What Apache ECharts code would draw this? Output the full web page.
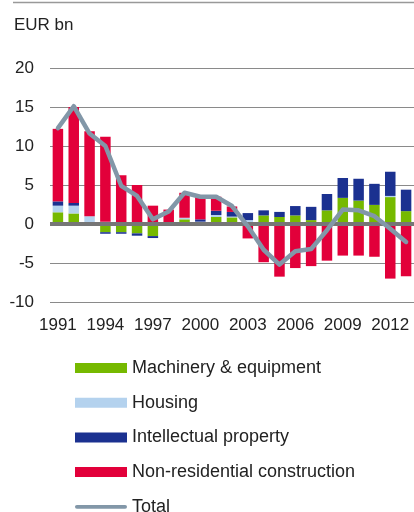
<html>
<head>
    <meta charset="utf-8">
    <title>Investment</title>
    <script src="https://cdn.jsdelivr.net/npm/echarts@6.0.0/dist/echarts.min.js"></script>
    <style>
        body { margin: 0; background: #fff; }
        #main { width: 414px; height: 512px; }
    </style>
</head>
<body>
<div id="main"></div>
<script>
    var years = ['1991', '1992', '1993', '1994', '1995', '1996', '1997', '1998', '1999', '2000', '2001', '2002',
        '2003', '2004', '2005', '2006', '2007', '2008', '2009', '2010', '2011', '2012', '2013']

    var machinery = [1.5, 1.35, 0, -1.05, -1.05, -1.2, -1.55, -0.2, 0.6, 0.1, 0.9, 0.85,
        0.2, 1.1, 0.9, 1.1, 0.5, 1.75, 3.35, 3.0, 2.45, 3.45, 1.65]
    var housing = [0.85, 1.0, 1.0, 0.3, 0, 0, 0, 0, 0.2, 0.2, 0.25, 0.1,
        0.3, 0, 0, 0, 0, 0, 0, 0, 0, 0.15, 0]
    var intellectual = [0.55, 0.35, 0, -0.2, -0.2, -0.3, -0.25, 0, 0, 0.3, 0.55, 0.6,
        0.9, 0.65, 0.65, 1.2, 1.7, 2.1, 2.55, 2.8, 2.7, 3.1, 2.75]
    var construction = [9.3, 12.3, 10.9, 10.9, 6.25, 5.0, 2.35, 1.85, 3.2, 2.9, 1.8, 0.7,
        -1.85, -4.9, -6.75, -5.65, -5.4, -4.7, -4.05, -4.05, -4.2, -7.0, -6.7]
    var total = [12.3, 15.1, 11.6, 10.0, 4.9, 3.6, 0.6, 1.6, 4.0, 3.5, 3.5, 2.3,
        -0.3, -3.3, -5.2, -3.5, -3.2, -0.8, 1.85, 1.75, 1.0, -0.6, -2.3]

    var myChart = echarts.init(document.getElementById('main'))

    var font = 'Liberation Sans, Arial, sans-serif'

    function barSeries (name, data, color) {
        return {
            name: name,
            type: 'bar',
            stack: 'inv',
            data: data,
            barWidth: 10.5,
            itemStyle: { color: color },
            z: 2
        }
    }

    var red = barSeries('Non-residential construction', construction, '#e2003a')
    // thick zero line drawn across the plot
    red.markLine = {
        silent: true,
        symbol: ['none', 'none'],
        label: { show: false },
        lineStyle: { color: '#767676', width: 4, type: 'solid' },
        data: [{ yAxis: 0 }],
        animation: false
    }

    myChart.setOption({
        animation: false,
        textStyle: { fontFamily: font },
        title: {
            text: 'EUR bn',
            left: 14,
            top: 17,
            padding: 0,
            textStyle: { fontSize: 17, fontWeight: 'normal', color: '#222', fontFamily: font }
        },
        graphic: [{
            type: 'line',
            shape: { x1: 13, y1: 2.5, x2: 414, y2: 2.5 },
            style: { stroke: '#999', lineWidth: 1.5 }
        }],
        legend: {
            orient: 'vertical',
            left: 75,
            top: 358,
            height: 200,
            padding: 0,
            itemWidth: 52,
            itemHeight: 10,
            itemGap: 14.7,
            textStyle: { fontSize: 18, color: '#222', lineHeight: 20, fontFamily: font },
            data: [
                { name: 'Machinery & equipment', icon: 'rect' },
                { name: 'Housing', icon: 'rect' },
                { name: 'Intellectual property', icon: 'rect' },
                { name: 'Non-residential construction', icon: 'rect' },
                { name: 'Total', icon: 'path://M2,0 L54,0 A2,2 0 0 1 54,4 L2,4 A2,2 0 0 1 2,0 Z' }
            ]
        },
        grid: {
            left: 50,
            top: 68,
            width: 370,
            height: 234
        },
        xAxis: {
            type: 'category',
            data: years,
            axisLine: { show: false },
            axisTick: { show: false },
            axisLabel: { interval: 2, fontSize: 17, color: '#222', margin: 15 }
        },
        yAxis: {
            type: 'value',
            min: -10,
            max: 20,
            interval: 5,
            axisLine: { show: false },
            axisTick: { show: false },
            axisLabel: { fontSize: 17, color: '#222', margin: 16 },
            splitLine: { lineStyle: { color: '#8a8a8a', width: 1 } }
        },
        series: [
            barSeries('Machinery & equipment', machinery, '#76b900'),
            barSeries('Housing', housing, '#b4d2ee'),
            barSeries('Intellectual property', intellectual, '#1b3190'),
            red,
            {
                name: 'Total',
                type: 'line',
                data: total,
                symbol: 'none',
                z: 5,
                itemStyle: { color: '#8297a8' },
                lineStyle: { color: '#8297a8', width: 4.5, cap: 'round', join: 'round' }
            }
        ]
    })
</script>
</body>
</html>
